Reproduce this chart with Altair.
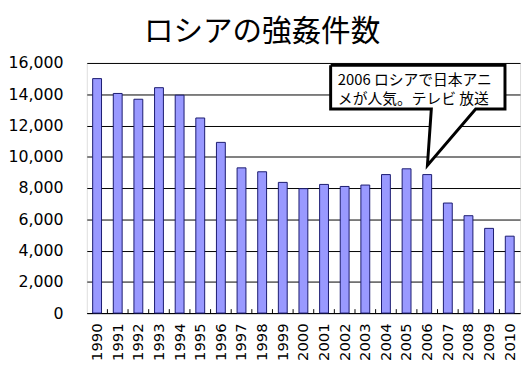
import altair as alt
import pandas as pd

years = [str(y) for y in range(1990, 2011)]
cases = [15000, 14050, 13680, 14420, 13940, 12480, 10920, 9290, 9040, 8360,
         7960, 8230, 8100, 8190, 8860, 9230, 8860, 7040, 6230, 5420, 4920]
y_ticks = [0, 2000, 4000, 6000, 8000, 10000, 12000, 14000, 16000]

title_text = ["ロシアの強姦件数"]
note_lines = ["2006 ロシアで日本アニ", "メが人気。テレビ 放送"]

# callout outline in (category index, value) units
call_x = [11.82, 20.27, 20.27, 18.85, 16.51, 16.70, 11.82, 11.82]
call_y = [15855, 15855, 13060, 13060, 9450, 13060, 13060, 15855]
note_x = [12.17, 12.17]
note_y = [14930, 13670]

df = pd.DataFrame({"year": years, "cases": cases})
edges = pd.DataFrame({"year": years[1:]})
poly = pd.DataFrame({"px": call_x, "py": call_y, "i": list(range(len(call_x)))})
notes = pd.DataFrame({"tx": note_x, "ty": note_y, "t": note_lines})
titles = pd.DataFrame({"t": title_text})

yscale = alt.Scale(domain=[0, 16000], nice=False)
yaxis = alt.Axis(title=None, values=y_ticks, format=",d",
                 labelFontSize=16, labelFont="DejaVu Sans",
                 labelColor="black", tickSize=0, ticks=False,
                 labelPadding=24, gridColor="black", gridWidth=1,
                 gridOpacity=1, domain=False, labelOverlap=False)
xband = alt.Scale(domain=years, paddingInner=0, paddingOuter=0)

bars = alt.Chart(df).mark_bar(
    width=9, color="#9999FF", stroke="#1a1a70", strokeWidth=1
).encode(
    x=alt.X("year:N", scale=xband, sort=years,
            axis=alt.Axis(title=None, labelAngle=270, labelFontSize=15,
                          labelFont="DejaVu Sans", labelColor="black",
                          ticks=False, labelPadding=10, domainColor="black",
                          domainWidth=1)),
    y=alt.Y("cases:Q", scale=yscale, axis=yaxis),
)

ticks = alt.Chart(edges).mark_rule(color="black", strokeWidth=1).encode(
    x=alt.X("year:N", scale=xband, sort=years, bandPosition=0, axis=None),
    y=alt.value(254),
    y2=alt.value(250),
)

xq = alt.Scale(domain=[0, 21], nice=False, zero=False)

callout = alt.Chart(poly).mark_line(
    fill="white", stroke="black", strokeWidth=3, strokeJoin="miter",
    interpolate="linear"
).encode(
    x=alt.X("px:Q", scale=xq, axis=None),
    y=alt.Y("py:Q", scale=yscale, axis=yaxis),
    order="i:Q",
)

note = alt.Chart(notes).mark_text(
    align="left", baseline="middle", fontSize=15, font="Noto Sans CJK JP",
    color="black"
).encode(
    x=alt.X("tx:Q", scale=xq, axis=None),
    y=alt.Y("ty:Q", scale=yscale, axis=yaxis),
    text="t:N",
)

title = alt.Chart(titles).mark_text(
    align="center", baseline="middle", fontSize=30, font="Noto Sans CJK JP",
    color="black", clip=False
).encode(
    x=alt.value(178),
    y=alt.value(-31),
    text="t:N",
)

chart = alt.layer(bars, ticks, callout, note, title).resolve_scale(
    x="independent"
).properties(
    width=440, height=254,
    autosize=alt.AutoSizeParams(type="none"),
    padding={"left": 80, "top": 53, "right": 3, "bottom": 57},
).configure_view(stroke="black", strokeWidth=1).configure(background="white")

chart.save("out.html", embed_options={"renderer": "svg", "actions": False})
